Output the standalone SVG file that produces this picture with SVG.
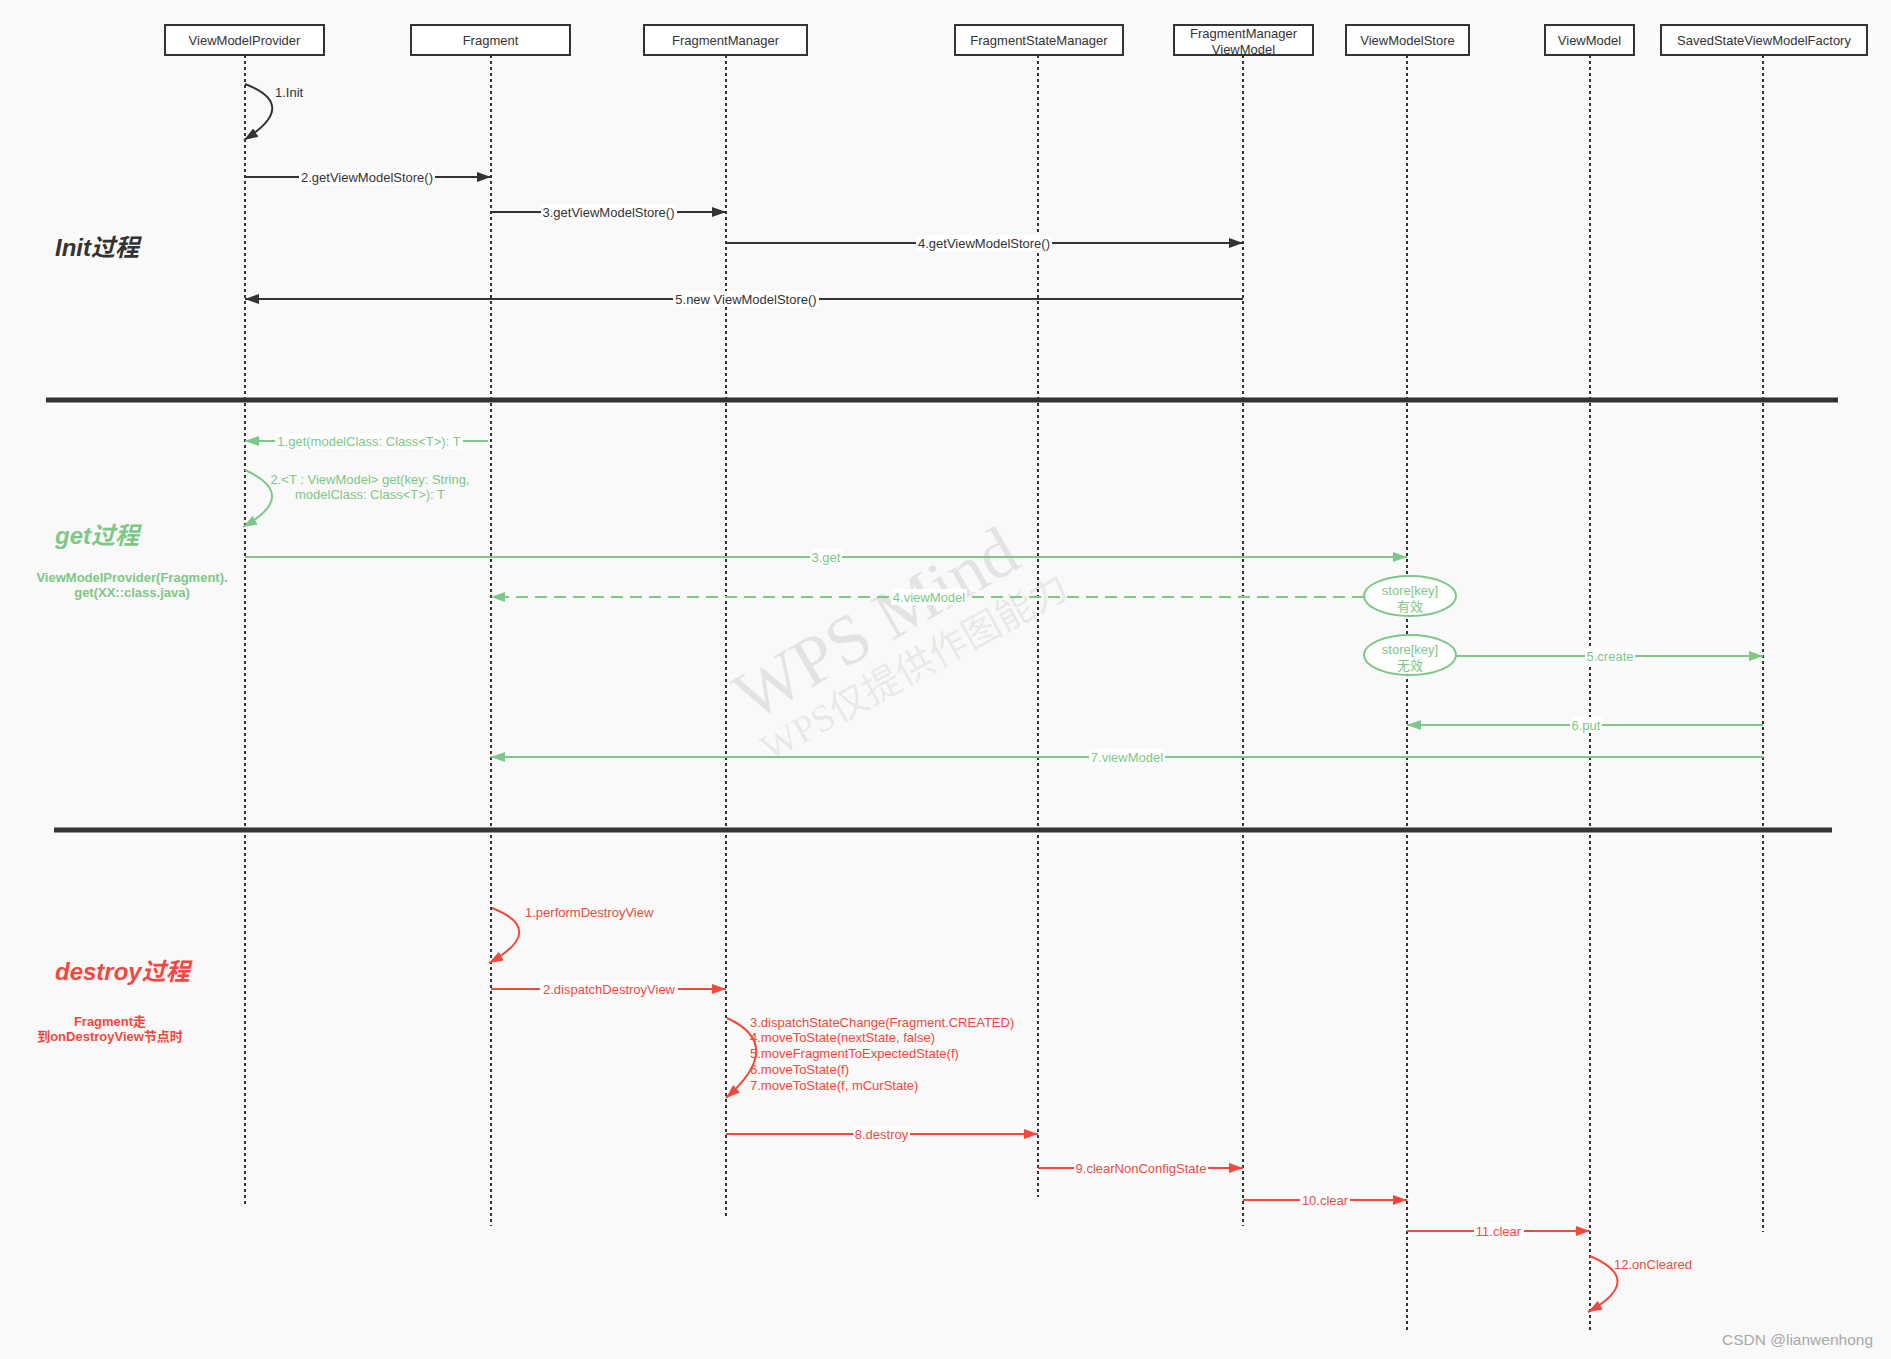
<svg xmlns="http://www.w3.org/2000/svg" width="1891" height="1359" viewBox="0 0 1891 1359">
<style>
.t{font-family:"Liberation Sans","Noto Sans CJK SC",sans-serif;font-size:13px}
.c{text-anchor:middle}
.box{fill:#fff;stroke:#333;stroke-width:2}
.ll{stroke:#333;stroke-width:2;stroke-dasharray:3 3;fill:none}
.lb{fill:#fff}
.dk{stroke:#333;stroke-width:2;fill:none}
.gr{stroke:#7dc886;stroke-width:2;fill:none}
.rd{stroke:#f4483c;stroke-width:2;fill:none}
.tdk{fill:#333}
.tgr{fill:#7dc886}
.trd{fill:#f4483c}
.sec{font-family:"Liberation Sans","Noto Sans CJK SC",sans-serif;font-size:24px;font-weight:bold;font-style:italic}
.note{font-family:"Liberation Sans","Noto Sans CJK SC",sans-serif;font-size:13px;font-weight:bold;text-anchor:middle}
.sep{stroke:#333;stroke-width:5}
</style>
<defs>
<marker id="ad" viewBox="0 0 14 10" refX="14" refY="5" markerWidth="14" markerHeight="10" orient="auto" markerUnits="userSpaceOnUse"><path d="M0,0 L14,5 L0,10 z" fill="#333"/></marker>
<marker id="ag" viewBox="0 0 14 10" refX="14" refY="5" markerWidth="14" markerHeight="10" orient="auto" markerUnits="userSpaceOnUse"><path d="M0,0 L14,5 L0,10 z" fill="#7dc886"/></marker>
<marker id="ar" viewBox="0 0 14 10" refX="14" refY="5" markerWidth="14" markerHeight="10" orient="auto" markerUnits="userSpaceOnUse"><path d="M0,0 L14,5 L0,10 z" fill="#f4483c"/></marker>
</defs>
<rect x="0" y="0" width="1891" height="1359" fill="#f9f9f9"/>

<!-- watermark -->
<g fill="#000" fill-opacity="0.085">
<text x="752" y="722" transform="rotate(-30 752 722)" font-family="Liberation Serif, serif" font-size="70">WPS Mind</text>
<text x="770" y="762" transform="rotate(-29 770 762)" font-family="Liberation Serif, Noto Sans CJK SC, serif" font-size="38">WPS仅提供作图能力</text>
</g>

<!-- lifelines -->
<g id="lifelines">
<line class="ll" x1="245" y1="55" x2="245" y2="1206"/>
<line class="ll" x1="491" y1="55" x2="491" y2="1226"/>
<line class="ll" x1="726" y1="55" x2="726" y2="1219"/>
<line class="ll" x1="1038" y1="55" x2="1038" y2="1197"/>
<line class="ll" x1="1243" y1="55" x2="1243" y2="1226"/>
<line class="ll" x1="1407" y1="55" x2="1407" y2="1333"/>
<line class="ll" x1="1590" y1="55" x2="1590" y2="1333"/>
<line class="ll" x1="1763" y1="55" x2="1763" y2="1232"/>
</g>

<!-- header nodes -->
<g id="n-viewmodelprovider"><rect class="box" x="165" y="25" width="159" height="30"/><text class="t c tdk" x="244.5" y="44.5">ViewModelProvider</text></g>
<g id="n-fragment"><rect class="box" x="411" y="25" width="159" height="30"/><text class="t c tdk" x="490.5" y="44.5">Fragment</text></g>
<g id="n-fragmentmanager"><rect class="box" x="644" y="25" width="163" height="30"/><text class="t c tdk" x="725.5" y="44.5">FragmentManager</text></g>
<g id="n-fragmentstatemanager"><rect class="box" x="955" y="25" width="168" height="30"/><text class="t c tdk" x="1039" y="44.5">FragmentStateManager</text></g>
<g id="n-fmviewmodel"><rect class="box" x="1174" y="25" width="139" height="30"/><text class="t c tdk" x="1243.5" y="38">FragmentManager</text><text class="t c tdk" x="1243.5" y="53.5">ViewModel</text></g>
<g id="n-viewmodelstore"><rect class="box" x="1346" y="25" width="123" height="30"/><text class="t c tdk" x="1407.5" y="44.5">ViewModelStore</text></g>
<g id="n-viewmodel"><rect class="box" x="1545" y="25" width="89" height="30"/><text class="t c tdk" x="1589.5" y="44.5">ViewModel</text></g>
<g id="n-savedstatevmfactory"><rect class="box" x="1661" y="25" width="206" height="30"/><text class="t c tdk" x="1764" y="44.5">SavedStateViewModelFactory</text></g>

<!-- separators -->
<g id="separators">
<line class="sep" x1="46" y1="400" x2="1838" y2="400"/>
<line class="sep" x1="54" y1="830" x2="1832" y2="830"/>
</g>

<!-- section titles & notes -->
<g id="n-init-title"><text class="sec tdk" x="55" y="256">Init过程</text></g>
<g id="n-get-title"><text class="sec tgr" x="55" y="544">get过程</text></g>
<g id="n-get-note"><text class="note tgr" x="132" y="582">ViewModelProvider(Fragment).</text><text class="note tgr" x="132" y="597">get(XX::class.java)</text></g>
<g id="n-destroy-title"><text class="sec trd" x="55" y="980">destroy过程</text></g>
<g id="n-destroy-note"><text class="note trd" x="110" y="1026">Fragment走</text><text class="note trd" x="110" y="1041">到onDestroyView节点时</text></g>

<!-- ellipses -->
<g id="n-store-valid"><ellipse cx="1410" cy="596" rx="46" ry="20" fill="#fff" stroke="#7dc886" stroke-width="2"/><text class="t c tgr" x="1410" y="595">store[key]</text><text class="t c tgr" x="1410" y="611">有效</text></g>
<g id="n-store-invalid"><ellipse cx="1410" cy="655" rx="46" ry="20" fill="#fff" stroke="#7dc886" stroke-width="2"/><text class="t c tgr" x="1410" y="654">store[key]</text><text class="t c tgr" x="1410" y="670">无效</text></g>

<!-- connectors -->
<g id="connectors">
<!-- Init -->
<path class="dk" d="M245,84 Q300,105 244,140" marker-end="url(#ad)"/>
<text class="t tdk" x="275" y="96.5">1.Init</text>

<line class="dk" x1="246" y1="177" x2="491" y2="177" marker-end="url(#ad)"/>
<rect class="lb" x="299" y="169" width="136" height="16"/>
<text class="t c tdk" x="367" y="181.5">2.getViewModelStore()</text>

<line class="dk" x1="491" y1="212" x2="726" y2="212" marker-end="url(#ad)"/>
<rect class="lb" x="541" y="204" width="136" height="16"/>
<text class="t c tdk" x="608.5" y="216.5">3.getViewModelStore()</text>

<line class="dk" x1="726" y1="243" x2="1243" y2="243" marker-end="url(#ad)"/>
<rect class="lb" x="916" y="235" width="136" height="16"/>
<text class="t c tdk" x="984" y="247.5">4.getViewModelStore()</text>

<line class="dk" x1="1243" y1="299" x2="245" y2="299" marker-end="url(#ad)"/>
<rect class="lb" x="673" y="291" width="146" height="16"/>
<text class="t c tdk" x="746" y="303.5">5.new ViewModelStore()</text>

<!-- get -->
<line class="gr" x1="488" y1="441" x2="245" y2="441" marker-end="url(#ag)"/>
<rect class="lb" x="275" y="433" width="188" height="16"/>
<text class="t c tgr" x="369" y="445.5">1.get(modelClass: Class&lt;T&gt;): T</text>

<path class="gr" d="M245,470 Q300,495 243,527" marker-end="url(#ag)"/>
<text class="t c tgr" x="370" y="484">2.&lt;T : ViewModel&gt; get(key: String,</text>
<text class="t c tgr" x="370" y="499">modelClass: Class&lt;T&gt;): T</text>

<line class="gr" x1="245" y1="557" x2="1407" y2="557" marker-end="url(#ag)"/>
<rect class="lb" x="810" y="549" width="32" height="16"/>
<text class="t c tgr" x="826" y="561.5">3.get</text>

<line class="gr" x1="1364" y1="597" x2="491" y2="597" stroke-dasharray="12 7" marker-end="url(#ag)"/>
<rect class="lb" x="891" y="589" width="76" height="16"/>
<text class="t c tgr" x="929" y="601.5">4.viewModel</text>

<line class="gr" x1="1456" y1="656" x2="1763" y2="656" marker-end="url(#ag)"/>
<rect class="lb" x="1585" y="648" width="50" height="16"/>
<text class="t c tgr" x="1610" y="660.5">5.create</text>

<line class="gr" x1="1763" y1="725" x2="1407" y2="725" marker-end="url(#ag)"/>
<rect class="lb" x="1570" y="717" width="32" height="16"/>
<text class="t c tgr" x="1586" y="729.5">6.put</text>

<line class="gr" x1="1763" y1="757" x2="491" y2="757" marker-end="url(#ag)"/>
<rect class="lb" x="1089" y="749" width="76" height="16"/>
<text class="t c tgr" x="1127" y="761.5">7.viewModel</text>

<!-- destroy -->
<path class="rd" d="M492,908 Q548,930 489,963" marker-end="url(#ar)"/>
<text class="t trd" x="525" y="916.5">1.performDestroyView</text>

<line class="rd" x1="491" y1="989" x2="726" y2="989" marker-end="url(#ar)"/>
<rect class="lb" x="540" y="981" width="138" height="16"/>
<text class="t c trd" x="609" y="993.5">2.dispatchDestroyView</text>

<path class="rd" d="M727,1018 Q786,1045 726,1098" marker-end="url(#ar)"/>
<text class="t trd" x="750" y="1026.5">3.dispatchStateChange(Fragment.CREATED)</text>
<text class="t trd" x="750" y="1042">4.moveToState(nextState, false)</text>
<text class="t trd" x="750" y="1058">5.moveFragmentToExpectedState(f)</text>
<text class="t trd" x="750" y="1074">6.moveToState(f)</text>
<text class="t trd" x="750" y="1090">7.moveToState(f, mCurState)</text>

<line class="rd" x1="726" y1="1134" x2="1038" y2="1134" marker-end="url(#ar)"/>
<rect class="lb" x="853" y="1126" width="57" height="16"/>
<text class="t c trd" x="881.5" y="1138.5">8.destroy</text>

<line class="rd" x1="1038" y1="1168" x2="1243" y2="1168" marker-end="url(#ar)"/>
<rect class="lb" x="1074" y="1160" width="134" height="16"/>
<text class="t c trd" x="1141" y="1172.5">9.clearNonConfigState</text>

<line class="rd" x1="1243" y1="1200" x2="1407" y2="1200" marker-end="url(#ar)"/>
<rect class="lb" x="1300" y="1192" width="50" height="16"/>
<text class="t c trd" x="1325" y="1204.5">10.clear</text>

<line class="rd" x1="1407" y1="1231" x2="1590" y2="1231" marker-end="url(#ar)"/>
<rect class="lb" x="1474" y="1223" width="50" height="16"/>
<text class="t c trd" x="1498.5" y="1235.5">11.clear</text>

<path class="rd" d="M1590,1256 Q1646,1280 1588,1312" marker-end="url(#ar)"/>
<text class="t trd" x="1614" y="1268.5">12.onCleared</text>
</g>

<text x="1722" y="1345" font-family="Liberation Sans, sans-serif" font-size="15.5" fill="#a8a8a8">CSDN @lianwenhong</text>
</svg>
